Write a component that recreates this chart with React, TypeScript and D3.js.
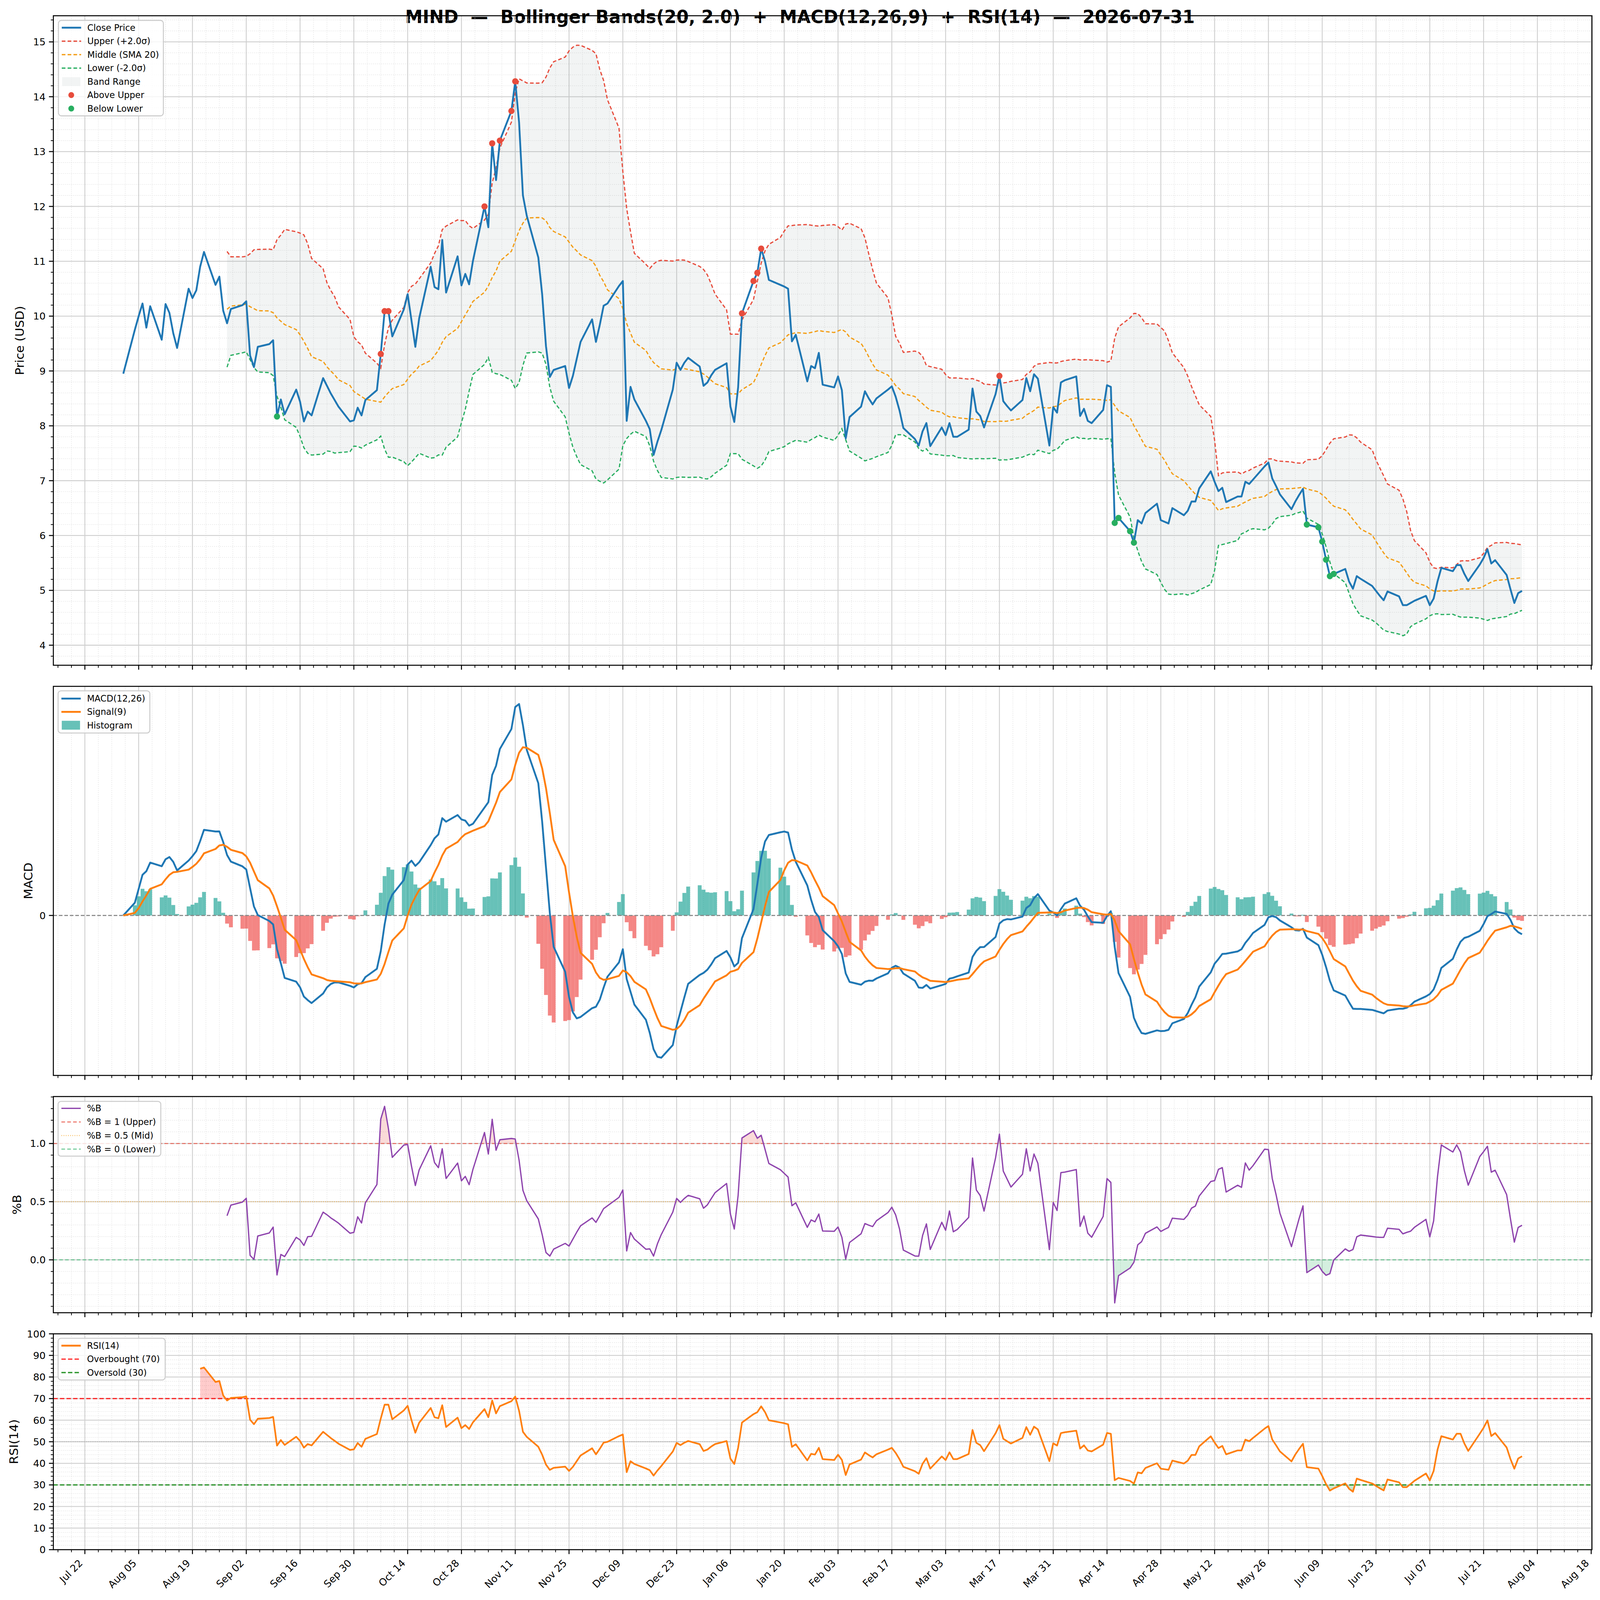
import React from 'react';
import * as d3 from 'd3';

// ---- labels / parameters ----
const TICKER = 'MIND';
const AS_OF = '2026-07-31';
const BB_PERIOD = 20;
const BB_K = 2.0;
const MACD_FAST = 12;
const MACD_SLOW = 26;
const MACD_SIGNAL = 9;
const RSI_PERIOD = 14;

// ---- close prices, one array per month (business days) ----
const closeAug2025 = [8.95, 9.75, 10.0, 10.23, 9.79, 10.18, 9.57, 10.22, 10.06, 9.69, 9.42, 10.5, 10.33, 10.47, 10.9, 11.17, 10.57, 10.72, 10.1, 9.87, 10.13];
const closeSep2025 = [10.2, 10.27, 9.28, 9.07, 9.44, 9.49, 9.56, 8.17, 8.48, 8.21, 8.66, 8.44, 8.08, 8.26, 8.19, 8.87, 8.73, 8.59, 8.47, 8.35, 8.08, 8.1];
const closeOct2025 = [8.33, 8.19, 8.47, 8.65, 9.31, 10.09, 10.09, 9.63, 10.12, 10.4, 9.92, 9.44, 9.96, 10.9, 10.53, 10.49, 11.39, 10.43, 11.09, 10.56, 10.77, 10.58, 11.01];
const closeNov2025 = [12.0, 11.62, 13.15, 12.48, 13.2, 13.74, 14.28, 13.53, 12.2, 11.83, 11.07, 10.4, 9.45, 8.89, 9.02, 9.09, 8.69, 8.91, 9.22, 9.53];
const closeDec2025 = [9.94, 9.53, 9.84, 10.19, 10.23, 10.55, 10.64, 8.09, 8.71, 8.48, 8.09, 7.94, 7.47, 7.71, 7.92, 8.66, 9.15, 9.02, 9.15, 9.24, 9.08, 8.73, 8.79];
const closeJan2026 = [8.92, 9.02, 9.14, 8.35, 8.07, 8.7, 10.05, 10.64, 10.79, 11.23, 11.0, 10.66, 10.57, 10.54, 10.5, 9.54, 9.66, 8.81, 9.09, 9.05, 9.33, 8.75];
const closeFeb2026 = [8.7, 8.9, 8.65, 7.77, 8.16, 8.35, 8.63, 8.5, 8.39, 8.5, 8.66, 8.72, 8.53, 8.28, 7.96, 7.76, 7.64, 7.9, 8.05, 7.63];
const closeMar2026 = [7.97, 7.83, 8.05, 7.8, 7.8, 7.93, 8.68, 8.26, 8.18, 7.97, 8.58, 8.91, 8.45, 8.36, 8.28, 8.47, 8.87, 8.63, 8.94, 8.86, 7.64, 8.34];
const closeApr2026 = [8.24, 8.79, 8.83, 8.9, 8.18, 8.31, 8.09, 8.05, 8.29, 8.74, 8.71, 6.23, 6.32, 6.08, 5.87, 6.28, 6.22, 6.41, 6.58, 6.28, 6.25, 6.22];
const closeMay2026 = [6.5, 6.37, 6.45, 6.62, 6.62, 6.86, 7.17, 6.98, 6.81, 6.87, 6.61, 6.71, 6.71, 6.98, 6.94, 7.02, 7.26, 7.33, 7.04, 6.9, 6.75];
const closeJun2026 = [6.48, 6.62, 6.74, 6.85, 6.2, 6.15, 5.89, 5.56, 5.26, 5.3, 5.39, 5.16, 5.03, 5.26, 5.21, 5.08, 4.99, 4.9, 4.82, 4.98, 4.89, 4.73];
const closeJul2026 = [4.73, 4.77, 4.81, 4.9, 4.73, 4.85, 5.16, 5.41, 5.35, 5.46, 5.46, 5.3, 5.17, 5.47, 5.59, 5.75, 5.49, 5.55, 5.28, 5.02, 4.77, 4.95, 4.99];

const closePrices = [
  ...closeAug2025, ...closeSep2025, ...closeOct2025, ...closeNov2025, ...closeDec2025, ...closeJan2026,
  ...closeFeb2026, ...closeMar2026, ...closeApr2026, ...closeMay2026, ...closeJun2026, ...closeJul2026,
];

const tradingDays = d3.utcDay
  .range(new Date(Date.UTC(2025, 7, 1)), new Date(Date.UTC(2026, 7, 1)))
  .filter((d) => d.getUTCDay() !== 0 && d.getUTCDay() !== 6);

// tick labels
const priceTicks = [4, 5, 6, 7, 8, 9, 10, 11, 12, 13, 14, 15];
const macdTicks = [0];
const pctBTicks = [0, 0.5, 1.0];
const rsiTicks = [0, 10, 20, 30, 40, 50, 60, 70, 80, 90, 100];
const firstDateTick = new Date(Date.UTC(2025, 6, 22));

// ---- layout ----
const W = 4378;
const H = 4322;
const LEFT = 146;
const RIGHT = 4356;
const FONT = '"DejaVu Sans", Verdana, sans-serif';
const GRID = '#cfcfcf';
const GRID_MINOR = '#dedede';

const C = {
  close: '#1f77b4',
  upper: '#e74c3c',
  middle: '#f39c12',
  lower: '#27ae60',
  band: '#95a5a6',
  macd: '#1f77b4',
  signal: '#ff7f0e',
  histUp: '#26a69a',
  histDn: '#ef5350',
  pctB: '#8e44ad',
  rsi: '#ff7f0e',
};

// ---- indicators ----
function bollinger(c: number[], n: number, k: number) {
  const mid: (number | null)[] = [];
  const up: (number | null)[] = [];
  const lo: (number | null)[] = [];
  c.forEach((_, i) => {
    if (i < n - 1) {
      mid.push(null); up.push(null); lo.push(null);
      return;
    }
    const w = c.slice(i - n + 1, i + 1);
    const m = d3.mean(w)!;
    const sd = d3.deviation(w)!;
    mid.push(m); up.push(m + k * sd); lo.push(m - k * sd);
  });
  return { mid, up, lo };
}

function ema(x: number[], span: number) {
  const a = 2 / (span + 1);
  const out: number[] = [];
  x.forEach((v, i) => out.push(i === 0 ? v : a * v + (1 - a) * out[i - 1]));
  return out;
}

function rsiWilder(c: number[], n: number) {
  const out: (number | null)[] = c.map(() => null);
  let g = 0;
  let l = 0;
  for (let i = 1; i < c.length; i++) {
    const d = c[i] - c[i - 1];
    const gi = Math.max(d, 0);
    const li = Math.max(-d, 0);
    if (i === 1) { g = gi; l = li; } else { g += (gi - g) / n; l += (li - l) / n; }
    if (i >= n) out[i] = l === 0 ? 100 : 100 - 100 / (1 + g / l);
  }
  return out;
}

function padded(lo: number, hi: number, f = 0.05): [number, number] {
  const r = hi - lo;
  return [lo - r * f, hi + r * f];
}

function minorTicks(domain: number[], step: number, majorStep: number) {
  const out: number[] = [];
  for (let v = Math.ceil(domain[0] / step) * step; v <= domain[1] + 1e-9; v += step) {
    const r = v / majorStep;
    if (Math.abs(r - Math.round(r)) > 1e-6) out.push(+v.toFixed(6));
  }
  return out;
}

type Num = number | null;

interface FrameProps {
  top: number;
  bottom: number;
  y: d3.ScaleLinear<number, number>;
  x: d3.ScaleTime<number, number>;
  yTicks: number[];
  yMinor: number[];
  fmt: (v: number) => string;
  hGrid: boolean;
  xMajor: Date[];
  xMinor: Date[];
  xLabels: boolean;
  ylabel: string;
  ylabelX: number;
  clipId: string;
  children?: React.ReactNode;
  overlay?: React.ReactNode;
}

function Frame(p: FrameProps) {
  const { top, bottom, y, x } = p;
  return (
    <g>
      <defs>
        <clipPath id={p.clipId}>
          <rect x={LEFT} y={top} width={RIGHT - LEFT} height={bottom - top} />
        </clipPath>
      </defs>
      {/* grid */}
      <g>
        {p.xMinor.map((d, i) => (
          <line key={'xm' + i} x1={x(d)} x2={x(d)} y1={top} y2={bottom} stroke={GRID_MINOR} strokeWidth={1.6} strokeDasharray="2 3.5" />
        ))}
        {p.hGrid && p.yMinor.map((v, i) => (
          <line key={'ym' + i} x1={LEFT} x2={RIGHT} y1={y(v)} y2={y(v)} stroke={GRID_MINOR} strokeWidth={1.6} strokeDasharray="2 3.5" />
        ))}
        {p.xMajor.map((d, i) => (
          <line key={'xM' + i} x1={x(d)} x2={x(d)} y1={top} y2={bottom} stroke={GRID} strokeWidth={2.4} />
        ))}
        {p.hGrid && p.yTicks.map((v, i) => (
          <line key={'yM' + i} x1={LEFT} x2={RIGHT} y1={y(v)} y2={y(v)} stroke={GRID} strokeWidth={2.4} />
        ))}
      </g>
      <g clipPath={`url(#${p.clipId})`}>{p.children}</g>
      {/* spines */}
      <rect x={LEFT} y={top} width={RIGHT - LEFT} height={bottom - top} fill="none" stroke="#000" strokeWidth={2.7} />
      {/* y ticks */}
      {p.yMinor.map((v, i) => (
        <line key={'ytm' + i} x1={LEFT - 7} x2={LEFT} y1={y(v)} y2={y(v)} stroke="#000" strokeWidth={2} />
      ))}
      {p.yTicks.map((v, i) => (
        <g key={'yt' + i}>
          <line x1={LEFT - 12} x2={LEFT} y1={y(v)} y2={y(v)} stroke="#000" strokeWidth={2.7} />
          <text x={LEFT - 21} y={y(v)} textAnchor="end" dominantBaseline="central" fontSize={27} fontFamily={FONT}>
            {p.fmt(v)}
          </text>
        </g>
      ))}
      {/* x ticks */}
      {p.xMinor.map((d, i) => (
        <line key={'xtm' + i} x1={x(d)} x2={x(d)} y1={bottom} y2={bottom + 7} stroke="#000" strokeWidth={2} />
      ))}
      {p.xMajor.map((d, i) => (
        <line key={'xt' + i} x1={x(d)} x2={x(d)} y1={bottom} y2={bottom + 12} stroke="#000" strokeWidth={2.7} />
      ))}
      {p.xLabels && p.xMajor.map((d, i) => (
        <text
          key={'xl' + i}
          transform={`translate(${x(d) - 4.5},${bottom + 38}) rotate(-45)`}
          textAnchor="end"
          fontSize={27}
          fontFamily={FONT}
        >
          {d3.utcFormat('%b %d')(d)}
        </text>
      ))}
      <text
        transform={`translate(${p.ylabelX},${(top + bottom) / 2}) rotate(-90)`}
        textAnchor="middle"
        dominantBaseline="central"
        fontSize={33}
        fontFamily={FONT}
      >
        {p.ylabel}
      </text>
      {p.overlay}
    </g>
  );
}

type LegendItem = {
  label: string;
  kind: 'line' | 'patch' | 'dot';
  color: string;
  dash?: string;
  width?: number;
  opacity?: number;
};

function Legend({ x, y, w, items, rowH = 36.5, pad = 20 }: { x: number; y: number; w: number; items: LegendItem[]; rowH?: number; pad?: number }) {
  const h = pad * 2 + (items.length - 1) * rowH;
  return (
    <g>
      <rect x={x} y={y} width={w} height={h} rx={8} fill="#fff" fillOpacity={0.8} stroke="#cccccc" strokeWidth={2.7} />
      {items.map((it, i) => {
        const cy = y + pad + i * rowH;
        return (
          <g key={i}>
            {it.kind === 'line' && (
              <line x1={x + 9} x2={x + 62} y1={cy} y2={cy} stroke={it.color} strokeWidth={it.width ?? 4.5} strokeDasharray={it.dash} strokeOpacity={it.opacity ?? 1} />
            )}
            {it.kind === 'patch' && (
              <rect x={x + 10} y={cy - 12} width={50} height={24} fill={it.color} fillOpacity={it.opacity ?? 1} />
            )}
            {it.kind === 'dot' && <circle cx={x + 35} cy={cy} r={8} fill={it.color} />}
            <text x={x + 79} y={cy} dominantBaseline="central" fontSize={24} fontFamily={FONT}>
              {it.label}
            </text>
          </g>
        );
      })}
    </g>
  );
}

export default function App() {
  const n = closePrices.length;
  const dates = tradingDays.slice(0, n);
  const bb = bollinger(closePrices, BB_PERIOD, BB_K);
  const emaFast = ema(closePrices, MACD_FAST);
  const emaSlow = ema(closePrices, MACD_SLOW);
  const macd = emaFast.map((v, i) => v - emaSlow[i]);
  const signal = ema(macd, MACD_SIGNAL);
  const hist = macd.map((v, i) => v - signal[i]);
  const rsi = rsiWilder(closePrices, RSI_PERIOD);
  const pctB: Num[] = closePrices.map((c, i) =>
    bb.up[i] == null ? null : (c - bb.lo[i]!) / (bb.up[i]! - bb.lo[i]!)
  );

  // x scale with 5% margins
  const t0 = +dates[0];
  const t1 = +dates[n - 1];
  const span = t1 - t0;
  const x = d3.scaleUtc().domain([new Date(t0 - span * 0.05), new Date(t1 + span * 0.05)]).range([LEFT, RIGHT]);
  const [xd0, xd1] = x.domain();
  const xMajor: Date[] = [];
  for (let d = firstDateTick; d <= xd1; d = d3.utcDay.offset(d, 14)) if (d >= xd0) xMajor.push(d);
  const xMinor: Date[] = [];
  const halfWeek = 3.5 * 864e5;
  for (let t = +firstDateTick - 2 * halfWeek; t <= +xd1; t += halfWeek) {
    if (t >= +xd0 && (t - +firstDateTick) % (4 * halfWeek) !== 0) xMinor.push(new Date(t));
  }

  const P = { price: [42.5, 1797], macd: [1854, 2905], pctb: [2962, 3546], rsi: [3603, 4186] };

  // price scale
  const pVals = [...closePrices, ...(bb.up.filter((v) => v != null) as number[]), ...(bb.lo.filter((v) => v != null) as number[])];
  const yP = d3.scaleLinear().domain(padded(d3.min(pVals)!, d3.max(pVals)!)).range([P.price[1], P.price[0]]);
  const mVals = [...macd, ...signal, ...hist, 0];
  const yM = d3.scaleLinear().domain(padded(d3.min(mVals)!, d3.max(mVals)!)).range([P.macd[1], P.macd[0]]);
  const bVals = pctB.filter((v) => v != null) as number[];
  const yB = d3.scaleLinear().domain(padded(d3.min(bVals)!, d3.max(bVals)!)).range([P.pctb[1], P.pctb[0]]);
  const yR = d3.scaleLinear().domain([0, 100]).range([P.rsi[1], P.rsi[0]]);

  const lineOf = (vals: Num[], y: d3.ScaleLinear<number, number>) =>
    d3.line<number>()
      .defined((i) => vals[i] != null)
      .x((i) => x(dates[i]))
      .y((i) => y(vals[i] as number))(d3.range(n)) || '';

  const bandIdx = d3.range(n).filter((i) => bb.up[i] != null);
  const bandArea = d3.area<number>()
    .x((i) => x(dates[i]))
    .y0((i) => yP(bb.lo[i]!))
    .y1((i) => yP(bb.up[i]!))(bandIdx) || '';

  const above = d3.range(n).filter((i) => bb.up[i] != null && closePrices[i] > bb.up[i]!);
  const below = d3.range(n).filter((i) => bb.lo[i] != null && closePrices[i] < bb.lo[i]!);

  const dayW = x(new Date(t0 + 864e5)) - x(new Date(t0));

  const pbIdx = d3.range(n).filter((i) => pctB[i] != null);
  const pbArea = (base: number) =>
    d3.area<number>().x((i) => x(dates[i])).y0(yB(base)).y1((i) => yB(pctB[i]!))(pbIdx) || '';
  const rsiIdx = d3.range(n).filter((i) => rsi[i] != null);
  const rsiArea = (base: number) =>
    d3.area<number>().x((i) => x(dates[i])).y0(yR(base)).y1((i) => yR(rsi[i]!))(rsiIdx) || '';

  const title = `${TICKER}  \u2014  Bollinger Bands(${BB_PERIOD}, ${BB_K.toFixed(1)})  +  MACD(${MACD_FAST},${MACD_SLOW},${MACD_SIGNAL})  +  RSI(${RSI_PERIOD})  \u2014  ${AS_OF}`;

  return (
    <svg
      viewBox={`0 0 ${W} ${H}`}
      preserveAspectRatio="none"
      style={{ position: 'fixed', left: 0, top: 0, width: '100vw', height: '100vh', background: '#fff', display: 'block' }}
    >
      <rect width={W} height={H} fill="#fff" />
      <defs>
        <clipPath id="pb-up"><rect x={LEFT} y={P.pctb[0]} width={RIGHT - LEFT} height={yB(1) - P.pctb[0]} /></clipPath>
        <clipPath id="pb-dn"><rect x={LEFT} y={yB(0)} width={RIGHT - LEFT} height={P.pctb[1] - yB(0)} /></clipPath>
        <clipPath id="rsi-up"><rect x={LEFT} y={P.rsi[0]} width={RIGHT - LEFT} height={yR(70) - P.rsi[0]} /></clipPath>
        <clipPath id="rsi-dn"><rect x={LEFT} y={yR(30)} width={RIGHT - LEFT} height={P.rsi[1] - yR(30)} /></clipPath>
      </defs>
      <text x={2189} y={62} textAnchor="middle" fontSize={48} fontWeight="bold" fontFamily={FONT} style={{ whiteSpace: 'pre' }}>
        {title}
      </text>

      {/* Price + Bollinger */}
      <Frame
        top={P.price[0]} bottom={P.price[1]} x={x} y={yP}
        yTicks={priceTicks} yMinor={minorTicks(yP.domain(), 0.2, 1)} fmt={(v) => String(v)}
        hGrid xMajor={xMajor} xMinor={xMinor} xLabels={false}
        ylabel="Price (USD)" ylabelX={53} clipId="c-price"
        overlay={
          <Legend x={160} y={55} w={287} rowH={36.4} pad={19.8} items={[
            { label: 'Close Price', kind: 'line', color: C.close, width: 5 },
            { label: 'Upper (+2.0\u03c3)', kind: 'line', color: C.upper, width: 3.3, dash: '10 6' },
            { label: 'Middle (SMA 20)', kind: 'line', color: C.middle, width: 3.3, dash: '10 6' },
            { label: 'Lower (-2.0\u03c3)', kind: 'line', color: C.lower, width: 3.3, dash: '10 6' },
            { label: 'Band Range', kind: 'patch', color: C.band, opacity: 0.12 },
            { label: 'Above Upper', kind: 'dot', color: C.upper },
            { label: 'Below Lower', kind: 'dot', color: C.lower },
          ]} />
        }
      >
        <path d={bandArea} fill={C.band} fillOpacity={0.12} />
        <path d={lineOf(bb.up, yP)} fill="none" stroke={C.upper} strokeWidth={3.3} strokeDasharray="10 6" />
        <path d={lineOf(bb.mid, yP)} fill="none" stroke={C.middle} strokeWidth={3.3} strokeDasharray="10 6" />
        <path d={lineOf(bb.lo, yP)} fill="none" stroke={C.lower} strokeWidth={3.3} strokeDasharray="10 6" />
        <path d={lineOf(closePrices, yP)} fill="none" stroke={C.close} strokeWidth={5} strokeLinejoin="round" />
        {above.map((i) => <circle key={'a' + i} cx={x(dates[i])} cy={yP(closePrices[i])} r={8.5} fill={C.upper} />)}
        {below.map((i) => <circle key={'b' + i} cx={x(dates[i])} cy={yP(closePrices[i])} r={8.5} fill={C.lower} />)}
      </Frame>

      {/* MACD */}
      <Frame
        top={P.macd[0]} bottom={P.macd[1]} x={x} y={yM}
        yTicks={macdTicks} yMinor={[]} fmt={() => '0'}
        hGrid={false} xMajor={xMajor} xMinor={xMinor} xLabels={false}
        ylabel="MACD" ylabelX={77} clipId="c-macd"
        overlay={
          <Legend x={159} y={1866} w={251} rowH={36} pad={21} items={[
            { label: `MACD(${MACD_FAST},${MACD_SLOW})`, kind: 'line', color: C.macd, width: 5 },
            { label: `Signal(${MACD_SIGNAL})`, kind: 'line', color: C.signal, width: 5 },
            { label: 'Histogram', kind: 'patch', color: C.histUp, opacity: 0.7 },
          ]} />
        }
      >
        {hist.map((h, i) => (
          <rect
            key={i}
            x={x(dates[i]) - dayW / 2}
            width={dayW}
            y={Math.min(yM(h), yM(0))}
            height={Math.abs(yM(h) - yM(0))}
            fill={h >= 0 ? C.histUp : C.histDn}
            fillOpacity={0.7}
          />
        ))}
        <line x1={LEFT} x2={RIGHT} y1={yM(0)} y2={yM(0)} stroke="#888" strokeWidth={3} strokeDasharray="10 5" />
        <path d={lineOf(macd, yM)} fill="none" stroke={C.macd} strokeWidth={5} strokeLinejoin="round" />
        <path d={lineOf(signal, yM)} fill="none" stroke={C.signal} strokeWidth={5} strokeLinejoin="round" />
      </Frame>

      {/* %B */}
      <Frame
        top={P.pctb[0]} bottom={P.pctb[1]} x={x} y={yB}
        yTicks={pctBTicks} yMinor={minorTicks(yB.domain(), 0.1, 0.5)} fmt={(v) => v.toFixed(1)}
        hGrid xMajor={xMajor} xMinor={xMinor} xLabels={false}
        ylabel="%B" ylabelX={46} clipId="c-pctb"
        overlay={
          <Legend x={159} y={2975} w={281} rowH={36.7} pad={19} items={[
            { label: '%B', kind: 'line', color: C.pctB, width: 3.5 },
            { label: '%B = 1 (Upper)', kind: 'line', color: C.upper, width: 3, dash: '10 6', opacity: 0.7 },
            { label: '%B = 0.5 (Mid)', kind: 'line', color: C.middle, width: 2.5, dash: '2 4', opacity: 0.7 },
            { label: '%B = 0 (Lower)', kind: 'line', color: C.lower, width: 3, dash: '10 6', opacity: 0.6 },
          ]} />
        }
      >
        <path d={pbArea(1)} fill={C.upper} fillOpacity={0.2} clipPath="url(#pb-up)" />
        <path d={pbArea(0)} fill={C.lower} fillOpacity={0.2} clipPath="url(#pb-dn)" />
        <line x1={LEFT} x2={RIGHT} y1={yB(1)} y2={yB(1)} stroke={C.upper} strokeOpacity={0.7} strokeWidth={3} strokeDasharray="10 6" />
        <line x1={LEFT} x2={RIGHT} y1={yB(0.5)} y2={yB(0.5)} stroke={C.middle} strokeOpacity={0.7} strokeWidth={2.5} strokeDasharray="2 4" />
        <line x1={LEFT} x2={RIGHT} y1={yB(0)} y2={yB(0)} stroke={C.lower} strokeOpacity={0.6} strokeWidth={3} strokeDasharray="10 6" />
        <path d={lineOf(pctB, yB)} fill="none" stroke={C.pctB} strokeWidth={3.5} strokeLinejoin="round" />
      </Frame>

      {/* RSI */}
      <Frame
        top={P.rsi[0]} bottom={P.rsi[1]} x={x} y={yR}
        yTicks={rsiTicks} yMinor={minorTicks([0, 100], 2, 10)} fmt={(v) => String(v)}
        hGrid xMajor={xMajor} xMinor={xMinor} xLabels
        ylabel={`RSI(${RSI_PERIOD})`} ylabelX={38} clipId="c-rsi"
        overlay={
          <Legend x={159} y={3615} w={293} rowH={36.3} pad={20} items={[
            { label: `RSI(${RSI_PERIOD})`, kind: 'line', color: C.rsi, width: 5 },
            { label: 'Overbought (70)', kind: 'line', color: '#ff0000', width: 3.5, dash: '12 6', opacity: 0.8 },
            { label: 'Oversold (30)', kind: 'line', color: '#008000', width: 3.5, dash: '12 6', opacity: 0.8 },
          ]} />
        }
      >
        <path d={rsiArea(70)} fill="#ff0000" fillOpacity={0.2} clipPath="url(#rsi-up)" />
        <path d={rsiArea(30)} fill="#008000" fillOpacity={0.2} clipPath="url(#rsi-dn)" />
        <line x1={LEFT} x2={RIGHT} y1={yR(70)} y2={yR(70)} stroke="#ff0000" strokeOpacity={0.8} strokeWidth={3.5} strokeDasharray="12 6" />
        <line x1={LEFT} x2={RIGHT} y1={yR(30)} y2={yR(30)} stroke="#008000" strokeOpacity={0.8} strokeWidth={3.5} strokeDasharray="12 6" />
        <line x1={LEFT} x2={RIGHT} y1={yR(50)} y2={yR(50)} stroke="#808080" strokeOpacity={0.6} strokeWidth={2.2} strokeDasharray="2 3" />
        <path d={lineOf(rsi, yR)} fill="none" stroke={C.rsi} strokeWidth={4.5} strokeLinejoin="round" />
      </Frame>
    </svg>
  );
}
